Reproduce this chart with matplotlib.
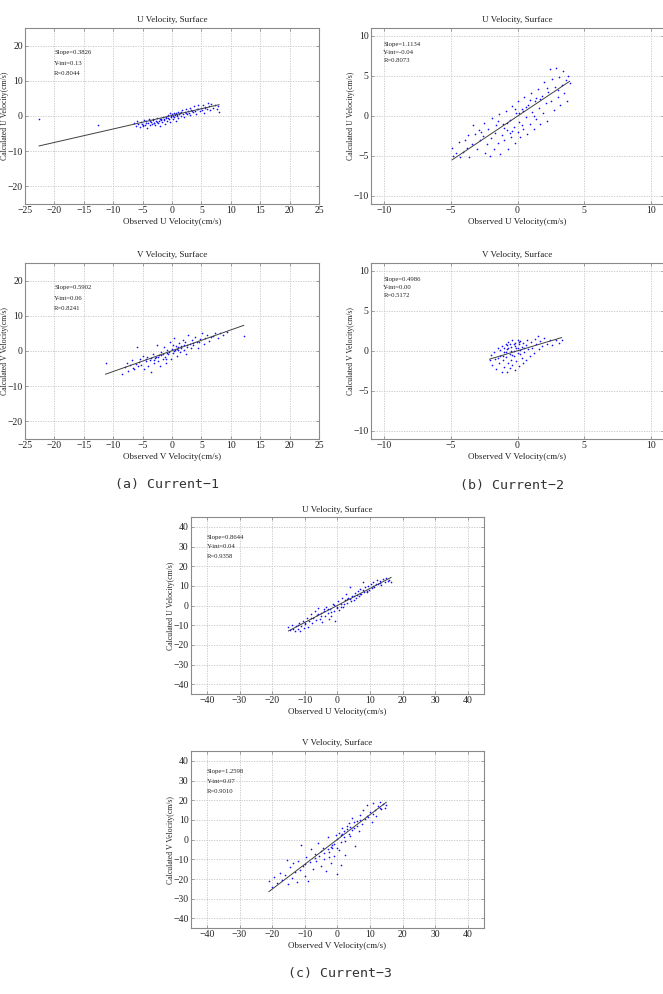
import matplotlib
matplotlib.use("Agg")
import matplotlib.pyplot as plt

plt.rcParams['font.family'] = ['Liberation Serif', 'DejaVu Serif']

# (a) Current-1, U
u1_obs = [-22.6, -12.5, -6.5, -6.2, -6.0, -5.8, -5.5, -5.3, -5.1, -4.9, -4.8, -4.6, -4.4, -4.2, -4.0, -3.9,
          -3.7, -3.5, -3.4, -3.2, -3.0, -2.9, -2.7, -2.5, -2.4, -2.2, -2.0, -1.9, -1.7, -1.5, -1.4, -1.2,
          -1.0, -0.9, -0.7, -0.5, -0.4, -0.2, 0.0, 0.1, 0.3, 0.4, 0.6, 0.8, 1.0, 1.1, 1.3, 1.5, 1.7, 1.9,
          2.0, 2.2, 2.4, 2.6, 2.8, 3.0, 3.1, 3.3, 3.5, 3.7, 3.9, 4.1, 4.3, 4.5, 4.7, 4.9, 5.1, 5.3, 5.5,
          5.7, 5.9, 6.1, 6.3, 6.5, 6.7, 7.0, 7.3, 7.6, 7.9, 8.0, -3.8, -3.1, -2.6, -1.8, -1.1, -0.6, 0.2,
          0.7, -4.5, -5.0, 1.6, 2.9, -0.3, 0.9, -3.3, -2.1, -1.3, -0.1, 0.5, 1.2, 2.3, 3.4, 4.4, 5.6]
u1_calc = [-0.8, -2.5, -2.0, -2.8, -1.5, -2.4, -3.0, -1.8, -2.2, -2.9, -1.2, -2.5, -1.9, -3.3, -2.1, -1.0,
           -2.7, -1.6, -2.3, -0.8, -1.9, -2.6, -1.3, -0.6, -2.0, -1.5, -2.9, -0.9, -1.7, -0.3, -1.2, -2.2,
           -0.7, -1.5, 0.2, -0.9, -1.8, -0.3, 0.5, -0.8, 0.9, -0.2, -1.3, 0.4, 1.2, -0.5, 0.8, 0.1, 1.6, 0.6,
           -0.4, 1.1, 2.0, 0.5, 1.4, 2.4, 0.2, 1.8, 1.0, 2.7, 1.5, 0.6, 2.1, 3.0, 1.3, 2.4, 1.8, 3.2, 0.9,
           2.6, 2.0, 3.6, 2.9, 1.6, 3.3, 2.4, 3.1, 2.0, 2.8, 1.2, -1.4, -2.0, -1.8, -1.1, -0.2, -0.6, 0.1,
           0.7, -1.4, -2.6, 1.0, 0.9, 0.8, -0.1, -1.2, -1.0, -0.8, -0.1, 0.3, 0.5, 0.9, 1.5, 1.9, 2.2]

# (a) Current-1, V
v1_obs = [-11.3, -8.5, -8.0, -7.7, -7.4, -7.1, -6.8, -6.5, -6.2, -6.0, -5.8, -5.5, -5.2, -5.0, -4.8, -4.5,
          -4.2, -4.0, -3.8, -3.5, -3.3, -3.1, -2.9, -2.6, -2.4, -2.2, -2.0, -1.8, -1.6, -1.4, -1.2, -1.0,
          -0.8, -0.6, -0.4, -0.2, 0.0, 0.2, 0.4, 0.6, 0.8, 1.0, 1.2, 1.4, 1.6, 1.8, 2.0, 2.2, 2.4, 2.6, 2.8,
          3.0, 3.2, 3.4, 3.6, 3.9, 4.2, 4.5, 4.8, 5.1, 5.4, 5.7, 6.0, 6.3, 6.6, 7.0, 7.4, 7.8, 8.2, 8.7,
          9.3, 12.2, -1.5, -0.5, 0.5, -2.7, 1.1, -3.6, 0.1, -1.1, 2.1, -4.4, -5.6, -3.0, -1.9, -0.9, 0.3,
          1.5, 2.5, 3.5, 4.6, -6.6, -2.3, 0.9]
v1_calc = [-3.5, -6.6, -4.5, -3.4, -5.8, -4.0, -2.6, -5.0, -3.6, 1.0, -4.4, -2.3, -3.9, -1.5, -5.2, -3.0,
           -1.8, -4.3, -2.5, -6.0, -0.8, -3.4, -2.0, 1.8, -3.0, -1.1, -4.2, -0.4, -2.3, 1.0, -1.6, -3.5,
           0.2, -1.0, 2.5, -2.2, 0.6, -0.7, 3.8, 1.3, -1.5, 0.3, 2.2, -0.2, 1.5, 3.2, 0.4, 2.4, -0.8, 1.2, 4.4,
           2.0, 0.8, 3.0, 1.6, 4.0, 2.4, 0.9, 3.5, 5.0, 2.0, 3.6, 4.6, 2.8, 3.9, 4.3, 5.2, 3.6, 5.1, 4.6,
           5.4, 4.3, -0.8, -0.3, 0.2, -1.6, 1.0, -1.9, 1.6, -2.4, 1.8, -2.2, -3.2, -2.6, -1.2, -0.6, -0.1,
           0.9, 1.7, 2.2, 2.6, -4.8, -1.7, 0.5]

# (b) Current-2, U
u2_obs = [-4.9, -4.8, -4.6, -4.4, -4.3, -4.1, -3.9, -3.8, -3.6, -3.4, -3.3, -3.2, -3.0, -2.9, -2.8, -2.6,
          -2.5, -2.4, -2.3, -2.2, -2.1, -2.0, -1.9, -1.8, -1.7, -1.6, -1.5, -1.4, -1.3, -1.2, -1.1, -1.0,
          -0.9, -0.8, -0.7, -0.6, -0.5, -0.4, -0.3, -0.2, -0.1, 0.0, 0.0, 0.1, 0.2, 0.3, 0.4, 0.5, 0.6, 0.7,
          0.8, 0.9, 1.0, 1.1, 1.2, 1.3, 1.4, 1.5, 1.6, 1.7, 1.8, 1.9, 2.0, 2.1, 2.2, 2.3, 2.4, 2.5, 2.6, 2.7,
          2.8, 2.9, 3.0, 3.1, 3.2, 3.3, 3.4, 3.5, 3.6, 3.7, 3.8, 3.9, -0.4, 0.3, -0.2, 0.6, -1.0, 1.2, 0.1,
          -0.6, 0.9, 1.7, -2.7, -1.5, -0.8, 0.4, 1.4, 2.2, 3.0, -3.7]
u2_calc = [-4.0, -5.0, -4.7, -3.3, -5.2, -4.5, -3.0, -4.0, -5.1, -3.5, -1.2, -2.3, -4.2, -1.8, -3.0, -2.5,
           -0.9, -4.6, -3.5, -1.7, -5.0, -2.8, -0.3, -4.1, -2.1, -1.2, -3.4, 0.2, -4.8, -2.4, -1.0, -3.0,
           0.6, -1.8, -4.2, -0.5, -2.6, 1.2, -1.4, -3.4, 0.3, -2.0, 1.9, -0.8, -2.6, 0.9, -1.6, 2.4, -0.2,
           -2.3, 1.4, -1.0, 2.9, 0.5, -1.7, 1.9, -0.4, 3.4, 1.0, -1.0, 2.5, 0.4, 4.2, 1.6, -0.6, 3.0, 5.9,
           1.8, 4.6, 0.7, 3.6, 6.0, 2.4, 4.9, 1.3, 3.9, 5.6, 2.8, 4.5, 1.9, 5.0, 4.1, -1.9, -1.1, 0.9, 1.1,
           -1.5, 0.0, 0.4, -2.2, 2.0, 2.1, -2.0, -0.6, -0.9, 0.6, 2.2, 3.5, 3.2, -2.4]

# (b) Current-2, V
v2_obs = [-2.1, -2.0, -1.9, -1.8, -1.7, -1.6, -1.5, -1.4, -1.3, -1.2, -1.2, -1.1, -1.0, -1.0, -0.9, -0.9,
          -0.8, -0.8, -0.7, -0.7, -0.6, -0.6, -0.5, -0.5, -0.4, -0.4, -0.3, -0.3, -0.2, -0.2, -0.1, -0.1,
          0.0, 0.0, 0.1, 0.1, 0.2, 0.2, 0.3, 0.3, 0.4, 0.4, 0.5, 0.6, 0.6, 0.7, 0.8, 0.9, 1.0, 1.1, 1.2, 1.3,
          1.4, 1.5, 1.6, 1.7, 1.8, 2.0, 2.2, 2.4, 2.6, 2.9, 3.1, 3.3, -1.3, -0.9, -0.5, -0.2, 0.0, -0.7,
          -1.1, -0.4, -1.5, -0.8, -0.3, 0.2, 0.5, -1.0, -0.6, 0.1]
v2_calc = [-1.2, -0.5, -1.8, -0.2, -1.0, -2.3, 0.3, -1.5, -0.6, -2.6, 0.6, -1.2, -0.1, -2.0, 0.9, -0.8,
           -2.7, 0.2, -1.5, 1.1, -0.4, -2.2, 0.5, -1.1, 1.3, -1.8, 0.0, -0.7, 1.0, -2.4, 0.4, -1.3, 1.4, -0.3,
           0.8, -1.9, 0.1, 1.2, -0.9, 0.5, -1.5, 1.0, -0.2, 0.7, -1.1, 1.3, 0.2, -0.6, 1.1, 0.4, -0.3, 1.5,
           0.8, 1.8, 0.2, 1.2, 0.6, 1.6, 0.9, 1.3, 0.7, 1.4, 1.0, 1.3, 0.1, -0.2, 0.0, 0.6, 0.3, 0.4, -0.6,
           -0.5, -0.9, 0.7, 0.9, -0.4, 0.3, 0.4, 0.8, 1.1]

# (c) Current-3, U
u3_obs = [-15.0, -14.5, -14.0, -13.5, -13.0, -12.6, -12.2, -11.8, -11.4, -11.0, -10.6, -10.2, -9.8, -9.4,
          -9.0, -8.6, -8.2, -7.8, -7.4, -7.0, -6.6, -6.2, -5.8, -5.4, -5.0, -4.6, -4.2, -3.8, -3.4, -3.0,
          -2.6, -2.2, -1.8, -1.4, -1.0, -0.6, -0.2, 0.2, 0.6, 1.0, 1.4, 1.8, 2.2, 2.6, 3.0, 3.4, 3.8, 4.2,
          4.6, 5.0, 5.4, 5.8, 6.2, 6.6, 7.0, 7.4, 7.8, 8.2, 8.6, 9.0, 9.4, 9.8, 10.2, 10.6, 11.0, 11.4, 11.8,
          12.2, 12.6, 13.0, 13.5, 14.0, 14.5, 15.0, 15.5, 16.0, 16.5, -8.0, -5.0, -2.0, 0.0, 2.0, 4.0, 6.0,
          -12.0, -10.0, 8.0, -3.0, 1.0, -6.0, -4.0, -1.0, 3.0, 5.0, 7.0, 9.0, 11.0, 13.0]
u3_calc = [-11.0, -12.5, -10.0, -12.0, -13.0, -10.5, -11.8, -9.0, -12.8, -10.2, -8.0, -11.5, -9.5, -6.5,
           -10.8, -7.8, -4.5, -9.0, -6.2, -3.0, -7.5, -5.0, -1.5, -6.8, -3.8, -8.5, -2.0, -5.5, -0.5, -4.0,
           -7.0, -1.8, -5.2, 1.0, -3.0, -8.0, -0.8, 2.5, -2.5, 0.8, 4.0, -0.5, 2.8, 6.0, 1.5, 4.0, 9.5, 2.5,
           5.0, 3.0, 6.5, 4.0, 7.5, 5.0, 8.5, 6.0, 12.0, 7.0, 9.5, 6.8, 10.0, 8.0, 11.0, 9.0, 12.0, 9.5, 10.8,
           13.0, 11.0, 12.5, 10.5, 13.5, 12.0, 14.0, 12.5, 13.0, 11.8, -6.5, -5.5, -3.5, -1.0, 1.0, 3.5, 5.5,
           -9.8, -8.8, 7.8, -2.0, -0.8, -4.2, -3.0, 0.5, 3.2, 4.8, 5.8, 7.5, 9.8, 11.5]

# (c) Current-3, V
v3_obs = [-21.0, -20.0, -19.5, -18.5, -17.5, -17.0, -16.0, -15.5, -15.0, -14.5, -14.0, -13.5, -13.0, -12.5,
          -12.0, -11.5, -11.0, -10.5, -10.0, -9.5, -9.0, -8.5, -8.0, -7.5, -7.0, -6.5, -6.0, -5.5, -5.0,
          -4.5, -4.0, -3.5, -3.0, -2.5, -2.0, -1.5, -1.0, -0.5, 0.0, 0.0, 0.5, 1.0, 1.5, 2.0, 2.5, 3.0, 3.5,
          4.0, 4.5, 5.0, 5.5, 6.0, 6.5, 7.0, 7.5, 8.0, 8.5, 9.0, 9.5, 10.0, 10.5, 11.0, 11.5, 12.0, 12.5,
          13.0, 13.5, 14.0, 14.5, 15.0, -3.0, -2.0, -1.0, 0.0, 1.0, 2.0, 3.0, 4.0, 5.0, -4.0, 2.5, -2.5,
          3.5, 0.5, -5.0, 6.0, 1.0, -1.5, 1.5, 4.5, 7.0, 9.0, 11.0, 13.0, -7.0, -10.0]
v3_calc = [-21.0, -24.0, -19.0, -22.0, -17.0, -20.5, -18.0, -10.5, -22.5, -14.0, -19.5, -12.0, -16.5, -21.5,
           -11.0, -15.5, -2.5, -13.5, -18.5, -9.0, -21.0, -11.5, -5.0, -15.0, -7.5, -11.0, -1.5, -8.5,
           -13.5, -4.5, -10.0, -16.0, 1.5, -6.5, -12.0, -2.5, -8.5, 2.5, -4.0, -17.5, 3.5, -1.0, 6.0, 1.5,
           -8.0, 5.5, 8.5, 2.0, 11.0, 6.0, -3.0, 9.5, 4.5, 12.5, 8.0, 15.0, 10.5, 17.5, 11.5, 14.0, 9.0, 18.5,
           15.0, 12.0, 17.0, 19.0, 15.5, 18.0, 16.0, 17.5, -5.0, -3.5, -2.0, 0.5, 2.5, 4.5, 7.0, 6.5, 9.0,
           -7.0, -0.5, -9.0, 3.0, -5.5, -6.0, 7.0, -13.0, -4.0, 3.0, 5.0, 10.0, 12.0, 13.0, 16.0, -9.5, -12.5]

panels = [
    # obs, calc, slope, yint, r, var, lim, xticks, yticks, rect, text x, text y
    (u1_obs, u1_calc, "0.3826", "0.13", "0.8044", "U", 25, range(-25, 26, 5), range(-20, 21, 10),
     [0.0377, 0.7948, 0.4434, 0.1771], 0.099, [0.86, 0.80, 0.74]),
    (u2_obs, u2_calc, "1.1134", "-0.04", "0.8073", "U", 11, range(-10, 11, 5), range(-10, 11, 5),
     [0.5591, 0.7948, 0.443, 0.1774], 0.043, [0.906, 0.86, 0.815]),
    (v1_obs, v1_calc, "0.5902", "0.06", "0.8241", "V", 25, range(-25, 26, 5), range(-20, 21, 10),
     [0.0377, 0.5584, 0.4434, 0.1771], 0.099, [0.86, 0.80, 0.74]),
    (v2_obs, v2_calc, "0.4986", "0.00", "0.5172", "V", 11, range(-10, 11, 5), range(-10, 11, 5),
     [0.5591, 0.5584, 0.443, 0.1774], 0.043, [0.906, 0.86, 0.815]),
    (u3_obs, u3_calc, "0.8644", "0.04", "0.9358", "U", 45, range(-40, 41, 10), range(-40, 41, 10),
     [0.2876, 0.3018, 0.4424, 0.178], 0.055, [0.885, 0.832, 0.776]),
    (v3_obs, v3_calc, "1.2598", "0.07", "0.9010", "V", 45, range(-40, 41, 10), range(-40, 41, 10),
     [0.2876, 0.0661, 0.4424, 0.1784], 0.055, [0.883, 0.827, 0.771]),
]

fig = plt.figure(figsize=(6.63, 9.94), dpi=100)

for obs, calc, slope, yint, r, var, lim, xt, yt, rect, tx, ty in panels:
    ax = fig.add_axes(rect)
    ax.plot(obs, calc, '.', color='#1010ff', ms=2.4, mew=0)
    s, b = float(slope), float(yint)
    x0, x1 = min(obs), max(obs)
    ax.plot([x0, x1], [s * x0 + b, s * x1 + b], color='#404040', lw=0.7)
    ax.set_xlim(-lim, lim)
    ax.set_ylim(-lim, lim)
    ax.set_xticks(list(xt))
    ax.set_yticks(list(yt))
    ax.grid(True, color='#c4c4c4', ls=(0, (1.5, 1.5)), lw=0.6)
    ax.tick_params(direction='in', length=2, width=0.5, labelsize=7, pad=1.5,
                   top=True, right=True, colors='#808080', labelcolor='#222222')
    for sp in ax.spines.values():
        sp.set_color('#8a8a8a')
        sp.set_linewidth(0.8)
    ax.set_title(f"{var} Velocity, Surface", fontsize=6.5, pad=4, color='#222222')
    ax.set_xlabel(f"Observed {var} Velocity(cm/s)", fontsize=6.5, labelpad=2, color='#222222')
    ax.set_ylabel(f"Calculated {var} Velocity(cm/s)", fontsize=5.6, color='#222222')
    # right edge of the rotated label about 15 px left of the frame
    ax.yaxis.set_label_coords(-15.5 / (rect[2] * 663), 0.5)
    for line, yy in zip([f"Slope={slope}", f"Y-int={yint}", f"R={r}"], ty):
        ax.text(tx, yy, line, transform=ax.transAxes, fontsize=4.8, va='center', ha='left',
                color='#222222')

fig.text(167 / 663, 1 - 485 / 994, "(a) Current\u22121", fontsize=9.5, family='DejaVu Sans Mono',
         ha='center', va='center', color='#333333')
fig.text(512 / 663, 1 - 486 / 994, "(b) Current\u22122", fontsize=9.5, family='DejaVu Sans Mono',
         ha='center', va='center', color='#333333')
fig.text(340 / 663, 1 - 974 / 994, "(c) Current\u22123", fontsize=9.5, family='DejaVu Sans Mono',
         ha='center', va='center', color='#333333')

fig.savefig("out.png", dpi=100)
